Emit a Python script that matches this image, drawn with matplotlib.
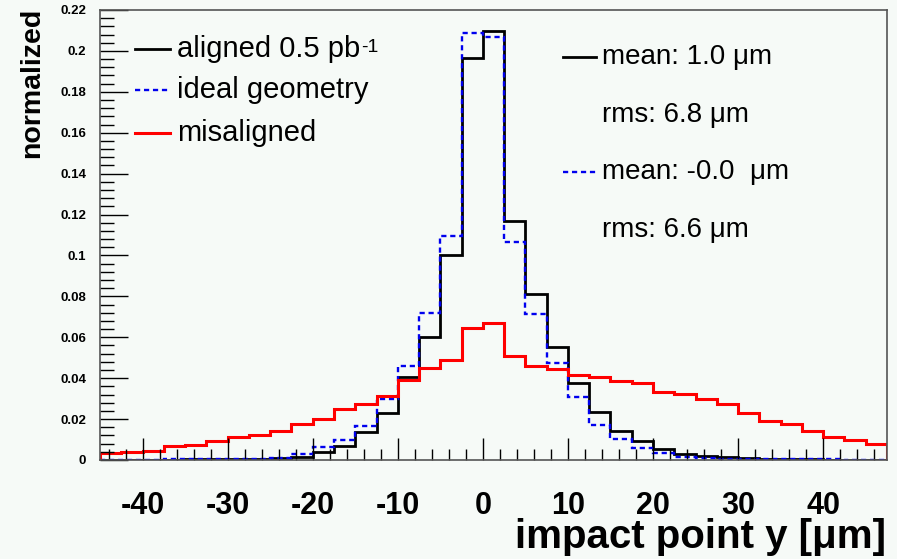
import numpy as np
import matplotlib
matplotlib.use("Agg")
import matplotlib.pyplot as plt
from matplotlib.ticker import MultipleLocator
from matplotlib.lines import Line2D

# Bin edges (impact point y, µm): -45 .. 47.5 in steps of 2.5
bin_lo = -45.0
bin_hi = 47.5
bin_width = 2.5

aligned = [0, 0, 0, 0.0002, 0.0003, 0.0004, 0.0005, 0.0006, 0.0011, 0.0016,
           0.0040, 0.0069, 0.0137, 0.0228, 0.0407, 0.0603, 0.1002, 0.1964,
           0.2099, 0.1168, 0.0810, 0.0554, 0.0377, 0.0236, 0.0143, 0.0093,
           0.0053, 0.0029, 0.0021, 0.0013, 0.0009, 0.0006, 0.0004, 0.0003,
           0.0002, 0, 0]
ideal = [0, 0, 0, 0.0006, 0.0006, 0.0006, 0.0006, 0.0007, 0.0011, 0.0030,
         0.0066, 0.0098, 0.0168, 0.0298, 0.0461, 0.0720, 0.1095, 0.2086,
         0.2070, 0.1064, 0.0714, 0.0476, 0.0306, 0.0169, 0.0103, 0.0057,
         0.0034, 0.0017, 0.0012, 0.0006, 0.0004, 0.0004, 0.0004, 0.0004,
         0.0003, 0, 0]
misaligned = [0.0033, 0.0039, 0.0046, 0.0067, 0.0073, 0.0093, 0.0111, 0.0122,
              0.0143, 0.0176, 0.0202, 0.0248, 0.0274, 0.0313, 0.0390, 0.0448,
              0.0490, 0.0647, 0.0668, 0.0510, 0.0462, 0.0443, 0.0417, 0.0404,
              0.0388, 0.0375, 0.0334, 0.0323, 0.0298, 0.0274, 0.0228, 0.0192,
              0.0174, 0.0142, 0.0114, 0.0098, 0.0077]

legend_labels = ["aligned 0.5 pb", "ideal geometry", "misaligned"]
legend_sup = ["-1", "", ""]
stats_labels = ["mean: 1.0 μm", "rms: 6.8 μm", "mean: -0.0  μm", "rms: 6.6 μm"]
x_ticks = [-40, -30, -20, -10, 0, 10, 20, 30, 40]

plt.rcParams['font.family'] = ['Liberation Sans', 'DejaVu Sans']
plt.rcParams['axes.unicode_minus'] = False

BG = '#f6faf7'
W, H = 897, 559
fig = plt.figure(figsize=(W / 100, H / 100), dpi=100, facecolor=BG)
ax = fig.add_axes([100 / W, 1 - 460 / H, (887 - 100) / W, (460 - 10) / H])
ax.set_facecolor(BG)

edges = np.arange(bin_lo, bin_hi + bin_width / 2, bin_width)
blue_ls = (0, (2.2, 1.6))
ax.stairs(aligned, edges, color='black', lw=2.0)
ax.stairs(ideal, edges, color='#0000ee', lw=1.7, linestyle=blue_ls)
ax.stairs(misaligned, edges, color='#ff0000', lw=2.2)

ax.set_xlim(bin_lo, bin_hi)
ax.set_ylim(0, 0.22)

ax.set_xticks(x_ticks)
ax.xaxis.set_minor_locator(MultipleLocator(2))
ax.yaxis.set_minor_locator(MultipleLocator(0.004))
ax.tick_params(axis='both', which='both', direction='in', top=False, right=False,
               color='black', width=1)
ax.tick_params(axis='x', which='major', length=16, pad=22, labelsize=22)
ax.tick_params(axis='x', which='minor', length=8)
ax.tick_params(axis='y', which='major', length=20, pad=10, labelsize=9.5)
ax.tick_params(axis='y', which='minor', length=10)
yt = np.round(np.arange(0, 0.2201, 0.02), 2)
ax.set_yticks(yt)
ax.set_yticklabels(['0'] + [f"{v:g}" for v in yt[1:]])
for lab in ax.get_xticklabels() + ax.get_yticklabels():
    lab.set_fontweight('bold')
for s in ax.spines.values():
    s.set_color('#555555')
    s.set_linewidth(1.2)

# axis titles
fig.text(886 / W, 1 - 537 / H, "impact point y [μm]", ha='right', va='center',
         fontsize=29, fontweight='bold')
fig.text(32 / W, 1 - 8 / H, "normalized", ha='center', va='top', rotation=90,
         fontsize=20.5, fontweight='bold')

def px(x, y):
    return (x / W, 1 - y / H)

# left legend
leg_styles = [dict(color='black', lw=2.0),
              dict(color='#0000ee', lw=1.7, linestyle=blue_ls),
              dict(color='#ff0000', lw=2.2)]
leg_y = [49, 90, 133]
renderer = fig.canvas.get_renderer()
for lab, sup, st, yy in zip(legend_labels, legend_sup, leg_styles, leg_y):
    x0, y0 = px(135, yy)
    x1, _ = px(170, yy)
    fig.add_artist(Line2D([x0, x1], [y0, y0], transform=fig.transFigure, **st))
    t = fig.text(x1 + 7 / W, y0, lab, ha='left', va='center', fontsize=21)
    if sup:
        bb = t.get_window_extent(renderer=renderer)
        fig.text((bb.x1 + 1) / W, 1 - (yy - 2) / H, sup, ha='left', va='center',
                 fontsize=14)

# right stats box
stat_y = [57, 115, 172, 230]
stat_lines = [leg_styles[0], None, leg_styles[1], None]
for lab, st, yy in zip(stats_labels, stat_lines, stat_y):
    x0, y0 = px(563, yy)
    x1, _ = px(596, yy)
    if st is not None:
        fig.add_artist(Line2D([x0, x1], [y0, y0], transform=fig.transFigure, **st))
    fig.text(602 / W, y0, lab, ha='left', va='center', fontsize=20)

fig.savefig("out.png", dpi=100, facecolor=BG)
